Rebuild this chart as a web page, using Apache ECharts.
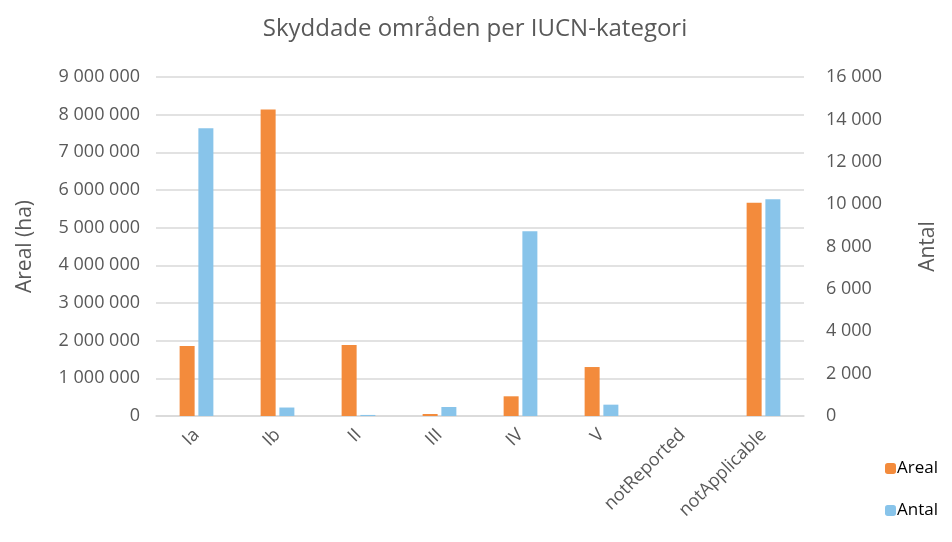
<!DOCTYPE html>
<html>
<head>
<meta charset="utf-8" />
<script src="https://cdn.jsdelivr.net/npm/echarts@6/dist/echarts.min.js"></script>
<title>Skyddade områden per IUCN-kategori</title>
<style>
html,body{margin:0;padding:0;background:#fff;}
#chart{width:952px;height:542px;}
</style>
</head>
<body>
<div id="chart"></div>
<script>
// kategorier och värden
var categories = ['Ia', 'Ib', 'II', 'III', 'IV', 'V', 'notReported', 'notApplicable'];
var areal = [1860000, 8140000, 1885000, 53000, 523000, 1300000, 0, 5660000];
var antal = [13580, 400, 50, 425, 8720, 535, 0, 10230];

function fmt(v) {
    return String(v).replace(/\B(?=(\d{3})+(?!\d))/g, ' ');
}

var myChart = echarts.init(document.getElementById('chart'));
var txt = '#595959';
var option = {
    backgroundColor: '#fff',
    animation: false,
    textStyle: {fontFamily: 'Open Sans'},
    title: {
        text: 'Skyddade områden per IUCN-kategori',
        left: 470,
        textAlign: 'center',
        top: 12,
        textStyle: {color: txt, fontSize: 24, fontWeight: 'normal', fontFamily: 'Open Sans'}
    },
    legend: {
        orient: 'vertical',
        left: 880,
        top: 455,
        itemWidth: 11,
        itemHeight: 11,
        itemGap: 25,
        textStyle: {color: '#000', fontSize: 17, padding: [0, 0, 0, -4]},
        data: ['Areal', 'Antal']
    },
    grid: {left: 156, top: 77, width: 648, height: 339, containLabel: false},
    xAxis: {
        type: 'category',
        data: categories,
        axisTick: {show: false},
        axisLine: {lineStyle: {color: '#d9d9d9', width: 1.5}},
        axisLabel: {
            color: txt, fontSize: 18, rotate: 45, interval: 0, margin: 16
        }
    },
    yAxis: [{
        type: 'value',
        name: 'Areal (ha)',
        nameLocation: 'middle',
        nameGap: 120,
        nameTextStyle: {color: txt, fontSize: 21},
        min: 0, max: 9000000, interval: 1000000,
        axisLabel: {color: txt, fontSize: 18, margin: 16, formatter: fmt},
        axisLine: {show: false},
        axisTick: {show: false},
        splitLine: {lineStyle: {color: '#d9d9d9', width: 1.5}}
    }, {
        type: 'value',
        name: 'Antal',
        nameLocation: 'middle',
        nameGap: 114,
        nameRotate: 90,
        nameTextStyle: {color: txt, fontSize: 21},
        min: 0, max: 16000, interval: 2000,
        axisLabel: {color: txt, fontSize: 18, margin: 22, formatter: fmt},
        axisLine: {show: false},
        axisTick: {show: false},
        splitLine: {show: false}
    }],
    series: [{
        name: 'Areal',
        type: 'bar',
        yAxisIndex: 0,
        barWidth: 15,
        barGap: '25%',
        itemStyle: {color: '#F38B3C'},
        data: areal
    }, {
        name: 'Antal',
        type: 'bar',
        yAxisIndex: 1,
        barWidth: 15,
        barGap: '25%',
        itemStyle: {color: '#88C4EA'},
        data: antal
    }]
};
myChart.setOption(option);
</script>
</body>
</html>
